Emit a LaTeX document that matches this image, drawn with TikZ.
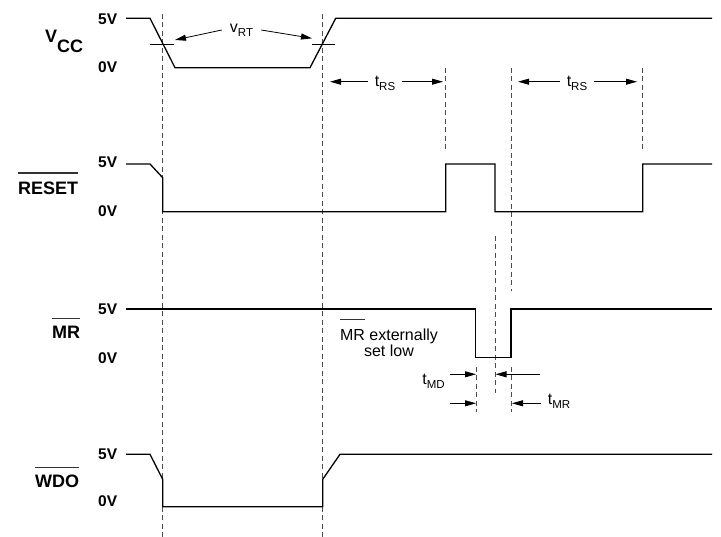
\documentclass[tikz,border=0pt]{standalone}
\usepackage{fontspec}
\setmainfont{Liberation Sans}
\usepackage{tikz}
\usetikzlibrary{arrows.meta, positioning, calc}

\newlength{\ovbarw}
\newcommand{\ovbar}[2][1.1em]{\settowidth{\ovbarw}{#2}\rlap{\color{black!80}\rule[#1]{\ovbarw}{0.08em}}#2}
\newcommand{\lowsub}[1]{\raisebox{-4pt}{\fontsize{11.5}{12}\selectfont #1}}

\begin{document}
\begin{tikzpicture}[x=1pt, y=-1pt,
    sig/.style={line width=1.3pt, line join=miter},
    guide/.style={line width=0.9pt, black!70, dash pattern=on 5pt off 3.5pt},
    dimarrow/.style={line width=0.8pt, -{Triangle[length=11pt,width=6pt]}},
    signame/.style={inner sep=0pt, anchor=base west, font=\fontsize{18}{20}\selectfont\bfseries},
    voltlbl/.style={inner sep=0pt, anchor=base west, font=\fontsize{15.5}{17}\selectfont\bfseries},
    annot/.style={font=\fontsize{16}{16}\selectfont}]

    \useasboundingbox (0,0) rectangle (721,537);

    % Signal names
    \node[signame] (vcc) at (45,43) {V\raisebox{-10pt}{CC}};
    \node[signame] (reset) at (18,195) {\ovbar[1.18em]{RESET}};
    \node[signame] (mr) at (52,339) {\ovbar{MR}};
    \node[signame] (wdo) at (35,488) {\ovbar{WDO}};

    % Levels
    \node[voltlbl] (vcchi) at (98,25) {5V};
    \node[voltlbl] (vcclo) at (98,73) {0V};
    \node[voltlbl] (resethi) at (98,168) {5V};
    \node[voltlbl] (resetlo) at (98,217) {0V};
    \node[voltlbl] (mrhi) at (98,315) {5V};
    \node[voltlbl] (mrlo) at (98,364) {0V};
    \node[voltlbl] (wdohi) at (98,460) {5V};
    \node[voltlbl] (wdolo) at (98,507) {0V};

    % Timing guides
    \foreach \x in {162.7, 322.7}
        \draw[guide] (\x,14) -- (\x,537);
    \foreach \x in {445.5, 642.5}
        \draw[guide] (\x,68) -- (\x,152);
    \draw[guide] (511,68) -- (511,291);
    \draw[guide] (495,236) -- (495,393);
    \foreach \x in {476.5, 511.5}
        \draw[guide] (\x,367) -- (\x,412);

    % VCC
    \draw[sig] (126,18.3) -- (150,18.3) -- (175,67.7) -- (310,67.7) -- (335.7,18.3) -- (712,18.3);
    \draw[sig] (150,44.3) -- (174,44.3);
    \draw[sig] (312,44.3) -- (335,44.3);

    % RESET
    \draw[sig] (126,164) -- (150,164) -- (162.7,177.7) -- (162.7,211.7) -- (445.7,211.7)
        -- (445.7,164) -- (495,164) -- (495,211.7) -- (642.7,211.7) -- (642.7,164) -- (712,164);

    % MR
    \draw[sig] (126,309) -- (475.7,309) -- (475.7,357.7) -- (511,357.7) -- (511,309) -- (712,309);

    % WDO
    \draw[sig] (126,454.3) -- (150,454.3) -- (162.7,479.3) -- (162.7,506.7) -- (322.7,506.7)
        -- (322.7,479.3) -- (340,454.3) -- (712,454.3);

    % VRT
    \node[annot, inner sep=8pt] (vrt) at (241.5,30) {v\lowsub{RT}};
    \coordinate (vrtL) at (175,40);
    \coordinate (vrtR) at (312,38.3);
    \draw[dimarrow] (vrt.west) -- (vrtL);
    \draw[dimarrow] (vrt.east) -- (vrtR);

    % tRS
    \node[annot, inner sep=7pt] (trsA) at (385,83.5) {t\lowsub{RS}};
    \coordinate (rsA1) at (330,81.7);
    \coordinate (rsA2) at (443,81.7);
    \draw[dimarrow] (trsA.west |- rsA1) -- (rsA1);
    \draw[dimarrow] (trsA.east |- rsA2) -- (rsA2);
    \node[annot, inner sep=7pt] (trsB) at (577,83.5) {t\lowsub{RS}};
    \coordinate (rsB1) at (518,81.7);
    \coordinate (rsB2) at (637,81.7);
    \draw[dimarrow] (trsB.west |- rsB1) -- (rsB1);
    \draw[dimarrow] (trsB.east |- rsB2) -- (rsB2);

    % MR note
    \node[annot, inner sep=0pt, anchor=north, align=center] (mrnote) at (389,319)
        {\ovbar[1.27em]{MR} externally\\set low};

    % tMD, tMR
    \node[annot, inner sep=5pt] (tmd) at (433.5,381) {t\lowsub{MD}};
    \coordinate (md1) at (476,374.3);
    \coordinate (md2s) at (540,374.3);
    \coordinate (md2) at (495.5,374.3);
    \draw[dimarrow] (tmd.east |- md1) -- (md1);
    \draw[dimarrow] (md2s) -- (md2);
    \node[annot, inner sep=7pt] (tmr) at (559,401.5) {t\lowsub{MR}};
    \coordinate (mr1s) at (450,403.3);
    \coordinate (mr1) at (476,403.3);
    \coordinate (mr2) at (512,403.3);
    \draw[dimarrow] (mr1s) -- (mr1);
    \draw[dimarrow] (tmr.west |- mr2) -- (mr2);
\end{tikzpicture}
\end{document}
